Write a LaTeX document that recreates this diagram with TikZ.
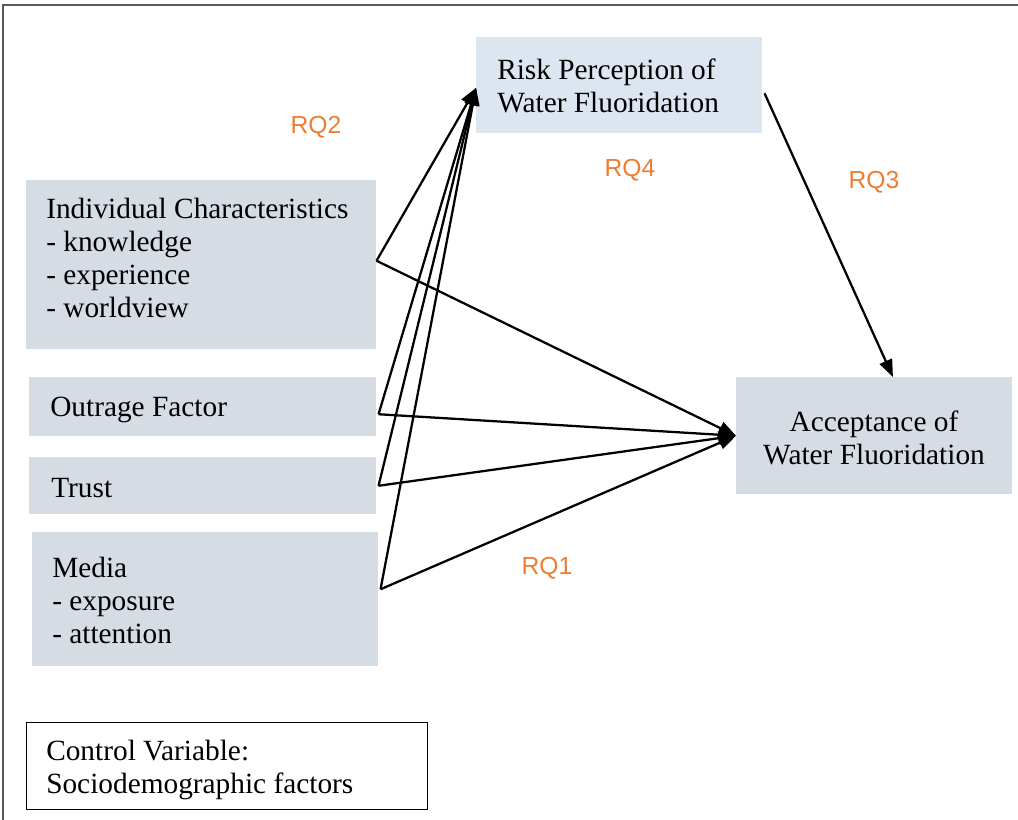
\documentclass[tikz,border=0pt]{standalone}
\usepackage{fontspec}
\setmainfont{Liberation Serif}
\newfontfamily\rqfont{Liberation Sans}
\usetikzlibrary{arrows.meta}
\definecolor{boxgray}{RGB}{214,220,228}
\definecolor{boxblue}{RGB}{220,230,241}
\definecolor{rqorange}{RGB}{237,125,49}
\definecolor{framegray}{RGB}{90,90,90}
\begin{document}
\begin{tikzpicture}[x=0.75pt,y=-0.75pt,
  varbox/.style={fill=boxgray,draw=none,anchor=north west,inner xsep=0pt,inner ysep=0pt},
  boxtext/.style={anchor=west,align=left,font=\fontsize{22}{24.75}\selectfont,inner sep=0pt},
  rqlabel/.style={text=rqorange,font=\rqfont\fontsize{18.5}{21}\selectfont},
  link/.style={line width=1.7pt,-{Triangle[length=13pt,width=10pt]}}]
\useasboundingbox (0,0) rectangle (1018,820);
\draw[framegray,line width=1.1pt] (3,820) -- (3,5) -- (1018,5);
% boxes
\node[varbox,fill=boxblue,minimum width=286*0.75pt,minimum height=96*0.75pt] (risk) at (476,37) {};
\node[boxtext] (risktxt) at (497,86) {Risk Perception of\\Water Fluoridation};
\node[varbox,minimum width=350*0.75pt,minimum height=169*0.75pt] (ind) at (26,180) {};
\node[boxtext] (indtxt) at (46,258) {Individual Characteristics\\- knowledge\\- experience\\- worldview};
\node[varbox,minimum width=347*0.75pt,minimum height=59*0.75pt] (out) at (29,377) {};
\node[boxtext] (outtxt) at (50,410) {Outrage Factor};
\node[varbox,minimum width=347*0.75pt,minimum height=57*0.75pt] (trust) at (29,457) {};
\node[boxtext] (trusttxt) at (51,488) {Trust};
\node[varbox,minimum width=346*0.75pt,minimum height=134*0.75pt] (media) at (32,532) {};
\node[boxtext] (mediatxt) at (52,600) {Media\\- exposure\\- attention};
\node[varbox,minimum width=276*0.75pt,minimum height=117*0.75pt] (acc) at (736,377) {};
\node[align=center,font=\fontsize{22}{24.75}\selectfont,inner sep=0pt] (acctxt) at (874,438) {Acceptance of\\Water Fluoridation};
\node[draw=black,line width=0.6pt,anchor=north west,minimum width=401*0.75pt,minimum height=87*0.75pt,inner sep=0pt] (ctrl) at (26,722) {};
\node[boxtext] (ctrltxt) at (46,770) {Control Variable:\\Sociodemographic factors};
% labels
\node[rqlabel] (rq2) at (316,127) {RQ2};
\node[rqlabel] (rq4) at (630,170) {RQ4};
\node[rqlabel] (rq3) at (874,182) {RQ3};
\node[rqlabel] (rq1) at (547,568) {RQ1};
% coordinates on box edges
\coordinate (indo) at ([yshift=3pt]ind.east);
\coordinate (outo) at ([xshift=1.5pt,yshift=-5.6pt]out.east);
\coordinate (trusto) at ([xshift=1.5pt]trust.east);
\coordinate (mediao) at ([xshift=1.5pt,yshift=7.5pt]media.east);
\coordinate (riskin) at ([yshift=-2pt]risk.west);
\coordinate (riskout) at ([xshift=1.5pt,yshift=-6pt]risk.east);
\coordinate (accin) at (acc.west);
\coordinate (acctop) at ([xshift=14pt]acc.north);
% connectors
\foreach \s in {indo,outo,trusto,mediao}{
  \draw[link] (\s) -- (riskin);
  \draw[link] (\s) -- (accin);
}
\draw[link] (riskout) -- (acctop);
\end{tikzpicture}
\end{document}
